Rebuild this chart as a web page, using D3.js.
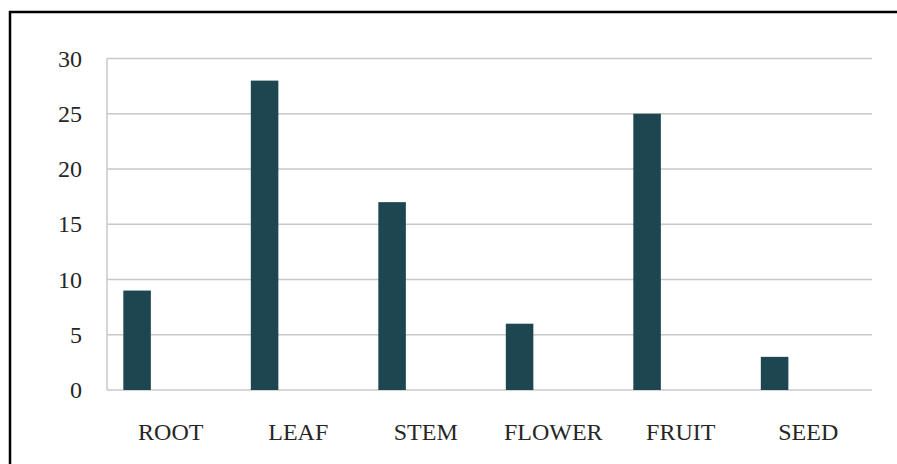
<!DOCTYPE html>
<html>
<head>
<meta charset="utf-8">
<script src="https://cdn.jsdelivr.net/npm/d3@7"></script>
<style>
  html, body { margin: 0; padding: 0; background: #fff; }
  svg { display: block; }
</style>
</head>
<body>
<svg id="chart" width="897" height="464"></svg>
<script>
// Plant part counts
const categories = ["ROOT", "LEAF", "STEM", "FLOWER", "FRUIT", "SEED"];
const values = [9, 28, 17, 6, 25, 3];
const yTicks = [0, 5, 10, 15, 20, 25, 30];

const svg = d3.select("#chart");
const W = 897, H = 464;
const margin = { left: 107, right: 25, top: 58.5, bottom: 74 };

// Outer frame (top and left edges visible)
svg.append("rect")
  .attr("x", 10).attr("y", 12)
  .attr("width", W + 20).attr("height", H + 20)
  .attr("fill", "none")
  .attr("stroke", "#000")
  .attr("stroke-width", 2.5);

const x = d3.scaleBand()
  .domain(categories)
  .range([margin.left, W - margin.right]);

const y = d3.scaleLinear()
  .domain([0, 30])
  .range([H - margin.bottom, margin.top]);

// Horizontal gridlines
svg.append("g")
  .selectAll("line")
  .data(yTicks)
  .join("line")
  .attr("x1", margin.left)
  .attr("x2", W - margin.right)
  .attr("y1", d => y(d))
  .attr("y2", d => y(d))
  .attr("stroke", "#c8c8c8")
  .attr("stroke-width", 1.5);

// Vertical axis line
svg.append("line")
  .attr("x1", margin.left).attr("x2", margin.left)
  .attr("y1", y(30)).attr("y2", y(0))
  .attr("stroke", "#c8c8c8")
  .attr("stroke-width", 1.5);

const labelFont = "'Liberation Serif', 'Times New Roman', serif";

// Y axis labels
const yAxis = d3.axisLeft(y).tickValues(yTicks).tickSize(0).tickPadding(25);
const gy = svg.append("g")
  .attr("transform", `translate(${margin.left},0)`)
  .call(yAxis);
gy.select(".domain").remove();
gy.selectAll("text")
  .attr("font-family", labelFont)
  .attr("font-size", 24)
  .attr("fill", "#262626");

// X axis labels
const xAxis = d3.axisBottom(x).tickSize(0).tickPadding(0);
const gx = svg.append("g")
  .attr("transform", `translate(0,${y(0)})`)
  .call(xAxis);
gx.select(".domain").remove();
gx.selectAll("text")
  .attr("font-family", labelFont)
  .attr("font-size", 24)
  .attr("fill", "#262626")
  .attr("dy", null)
  .attr("y", 50);

// Bars sit in the left part of each category band
const barW = x.bandwidth() * 0.216;
const barOff = x.bandwidth() * 0.128;
svg.append("g")
  .selectAll("rect")
  .data(categories.map((c, i) => ({ c, v: values[i] })))
  .join("rect")
  .attr("x", d => x(d.c) + barOff)
  .attr("y", d => y(d.v))
  .attr("width", barW)
  .attr("height", d => y(0) - y(d.v))
  .attr("fill", "#1e4651");
</script>
</body>
</html>
